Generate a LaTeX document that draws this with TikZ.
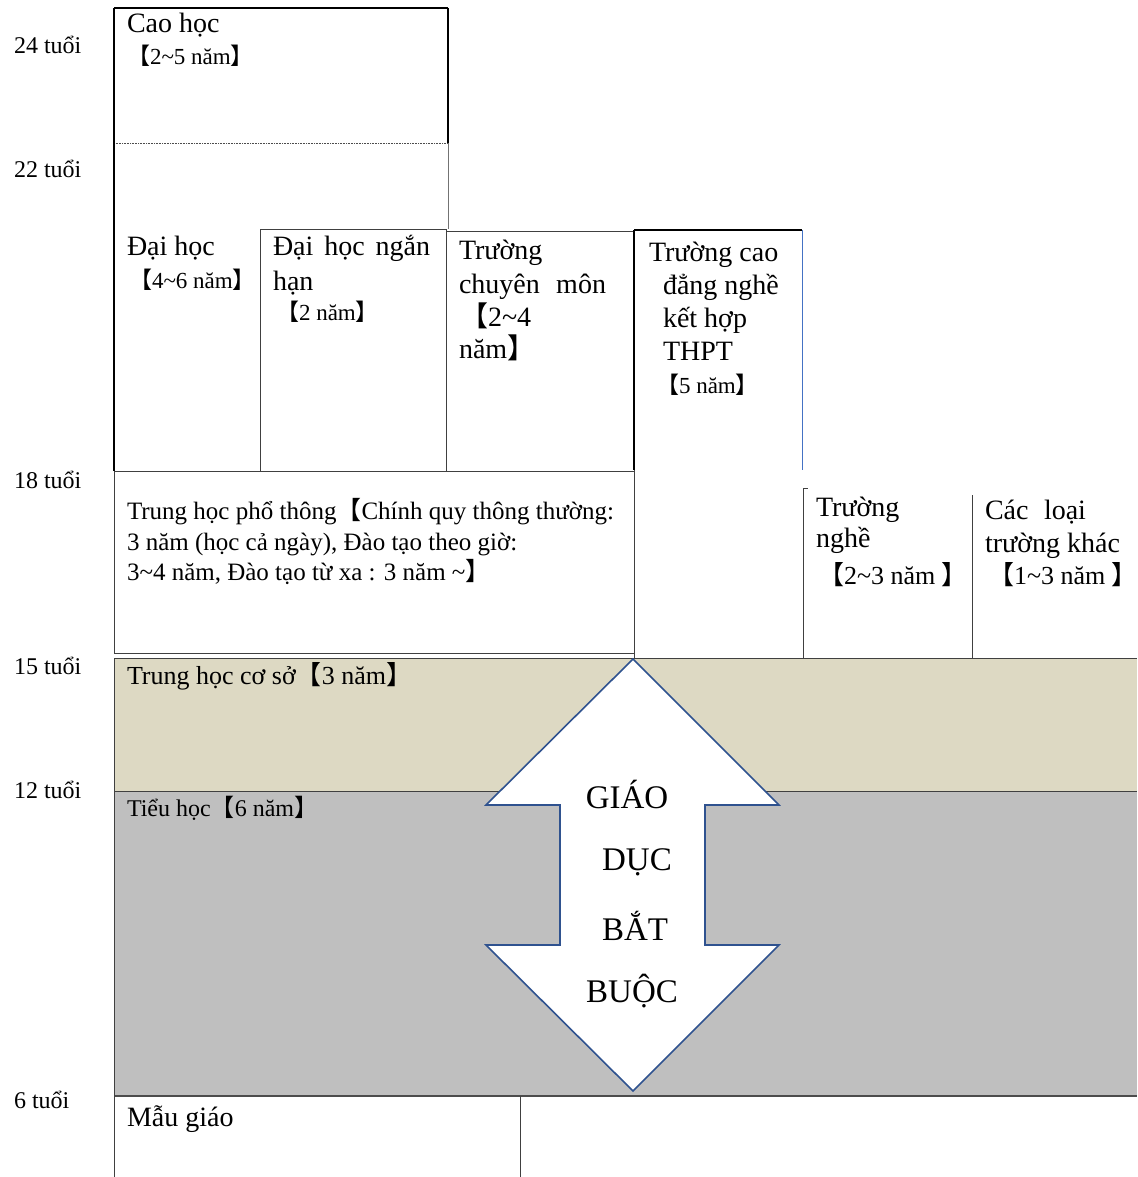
\documentclass[tikz,border=0pt]{standalone}
\usepackage{fontspec}
\setmainfont{Liberation Serif}
\newfontfamily\cjk{Noto Sans CJK JP}
\newcommand{\lbk}{{\cjk 【}}
\newcommand{\rbk}{{\cjk\makebox[0.55em][l]{】}}}
\newcommand{\tld}{\textasciitilde}
\newcommand{\szL}{\fontsize{28}{33}\selectfont}
\newcommand{\szC}{\fontsize{26}{31}\selectfont}
\newcommand{\szM}{\fontsize{26}{31}\selectfont}
\newcommand{\szS}{\fontsize{23}{27}\selectfont}
\newcommand{\szG}{\fontsize{24}{28}\selectfont}
\newcommand{\szT}{\fontsize{25}{30}\selectfont}
\newcommand{\szP}{\fontsize{24}{28}\selectfont}
\newcommand{\szA}{\fontsize{33}{38}\selectfont}
\definecolor{beige}{HTML}{DDD9C3}
\definecolor{band}{HTML}{BFBFBF}
\definecolor{arrowblue}{HTML}{2F528F}
\definecolor{edgeblue}{HTML}{4472C4}
\begin{document}
\begin{tikzpicture}[x=1pt,y=-1pt,
  lbl/.style={anchor=base west,inner sep=0pt,outer sep=0pt},
  mid/.style={anchor=base,inner sep=0pt,outer sep=0pt},
  blk/.style={draw=black,line width=1.3pt},
  thin/.style={draw=black!75,line width=0.9pt},
  gry/.style={draw=black!55,line width=0.7pt}]
\useasboundingbox (0,0) rectangle (1137,1177);
% bands
\fill[beige] (114,658) rectangle (1137,791);
\fill[band] (114,791) rectangle (1137,1096);
\draw[thin] (114,658) -- (1137,658);
\draw[thin] (114,791) -- (1137,791);
\draw[draw=black!70,line width=1.5pt] (114,1096) -- (1137,1096);
\draw[thin] (114,658) -- (114,1177);
\draw[thin] (520,1096) -- (520,1177);
% Cao hoc
\draw[blk] (114,8) -- (448,8);
\draw[blk] (448,8) -- (448,143);
\draw[gry] (448,143) -- (448,229);
\draw[black!70,line width=0.6pt,densely dotted] (114,143) -- (448,143);
\draw[blk] (114,8) -- (114,471);
% Dai hoc ngan han
\draw[thin] (260,229) rectangle (446,471);
% Truong chuyen mon
\draw[thin] (446,231) -- (634,231);
% Cao dang
\draw[blk] (634,230) -- (802,230);
\draw[blk] (634,230) -- (634,470);
\draw[thin] (634,470) -- (634,658);
\draw[edgeblue,line width=0.7pt] (802,230) -- (802,470);
% THPT
\draw[thin] (114,471) rectangle (634,653);
% Truong nghe / khac
\draw[thin] (803,488) -- (808,488);
\draw[thin] (803,488) -- (803,658);
\draw[thin] (972,495) -- (972,658);
% arrow
\draw[arrowblue,line width=1.6pt,fill=white,line join=miter]
  (633,659) -- (779,805) -- (705,805) -- (705,945) -- (779,945) -- (633,1091)
  -- (486,945) -- (560,945) -- (560,805) -- (486,805) -- cycle;
% age labels
\node[lbl] (a24) at (14,54) {\szG 24 tuổi};
\node[lbl] (a22) at (14,178) {\szG 22 tuổi};
\node[lbl] (a18) at (14,488) {\szG 18 tuổi};
\node[lbl] (a15) at (14,674) {\szG 15 tuổi};
\node[lbl] (a12) at (14,798) {\szG 12 tuổi};
\node[lbl] (a6) at (14,1108) {\szG 6 tuổi};
% texts
\node[lbl] (ch1) at (127,33) {\szL Cao học};
\node[lbl] (ch2) at (127,65) {\szS\lbk 2\tld 5 năm\rbk};
\node[lbl] (dh1) at (127,255) {\szL Đại học};
\node[lbl] (dh2) at (129,288) {\szS\lbk 4\tld 6 năm\rbk};
\node[lbl] (dn1) at (273,255) {\szL\makebox[157pt][s]{Đại học ngắn}};
\node[lbl] (dn2) at (273,290) {\szL hạn};
\node[lbl] (dn3) at (276,320) {\szS\lbk 2 năm\rbk};
\node[lbl] (cm1) at (459,259) {\szL Trường};
\node[lbl] (cm2) at (459,293) {\szL\makebox[147pt][s]{chuyên môn}};
\node[lbl] (cm3) at (460,326) {\szL\lbk 2\tld 4};
\node[lbl] (cm4) at (459,358) {\szL năm\rbk};
\node[lbl] (cd1) at (649,261) {\szL Trường cao};
\node[lbl] (cd2) at (663,294) {\szL đẳng nghề};
\node[lbl] (cd3) at (663,327) {\szL kết hợp};
\node[lbl] (cd4) at (663,360) {\szL THPT};
\node[lbl] (cd5) at (656,393) {\szS\lbk 5 năm\rbk};
\node[lbl] (tp1) at (127,519) {\szT Trung học phổ thông\lbk Chính quy thông thường:};
\node[lbl] (tp2) at (127,550) {\szT 3 năm (học cả ngày), Đào tạo theo giờ:};
\node[lbl] (tp3) at (127,580) {\szT 3\tld 4 năm, Đào tạo từ xa : 3 năm \tld\rbk};
\node[lbl] (tn1) at (816,516) {\szL Trường};
\node[lbl] (tn2) at (816,547) {\szL nghề};
\node[lbl] (tn3) at (818,584) {\szM\lbk 2\tld 3 năm \rbk};
\node[lbl] (tk1) at (985,519) {\szL\makebox[101pt][s]{Các loại}};
\node[lbl] (tk2) at (985,552) {\szL trường khác};
\node[lbl] (tk3) at (988,584) {\szM\lbk 1\tld 3 năm \rbk};
\node[lbl] (thcs) at (127,684) {\szC Trung học cơ sở\lbk 3 năm\rbk};
\node[lbl] (tieu) at (127,816) {\szP Tiểu học\lbk 6 năm\rbk};
\node[lbl] (mg) at (127,1126) {\szL Mẫu giáo};
\node[mid] (g1) at (627,808) {\szA GIÁO};
\node[mid] (g2) at (637,870) {\szA DỤC};
\node[mid] (g3) at (635,940) {\szA BẮT};
\node[mid] (g4) at (632,1002) {\szA BUỘC};
\end{tikzpicture}
\end{document}
